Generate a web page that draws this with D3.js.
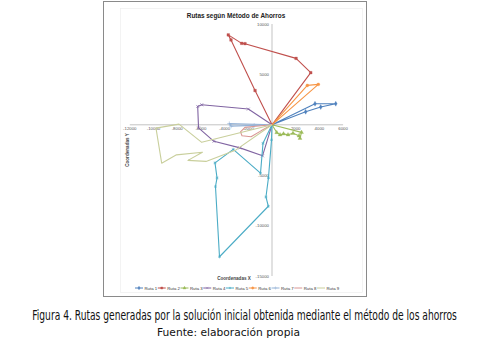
<!DOCTYPE html>
<html lang="es">
  <head>
    <meta charset="UTF-8" />
    <title>Rutas según Método de Ahorros</title>
    <style>
      body { margin: 0; background: #fff; }
      svg { display: block; }
      .tick-label { font-family: Arial, 'Liberation Sans', sans-serif; font-size: 4.3px; fill: #555; }
      .axis-title { font-family: Arial, 'Liberation Sans', sans-serif; font-size: 4.6px; font-weight: bold; fill: #444; }
      .legend-label { font-family: Arial, 'Liberation Sans', sans-serif; font-size: 4.3px; fill: #333; }
      .caption { font-family: 'Liberation Sans Narrow', 'DejaVu Sans Condensed', 'Open Sans', sans-serif; fill: #111; }
    </style>
  </head>
  <body>
    <script src="https://d3js.org/d3.v7.min.js"></script>
    <script>
      // rutas: puntos [x, y] (todas salen y vuelven al deposito 0,0)
      const ruta1 = [[0, 0], [3630, 2090], [5380, 2090], [4110, 1760], [2840, 1290], [0, 0]];
      const ruta2 = [[0, 0], [-1430, 3400], [-3460, 8420], [-3690, 8920], [-2560, 8080], [-2280, 8050], [2030, 6590], [3270, 5170], [0, 0]];
      const ruta3 = [[0, 0], [400, -770], [680, -990], [970, -900], [1350, -990], [1770, -840], [2280, -1090], [2360, -1340], [2490, -750], [0, 0]];
      const ruta4 = [[0, 0], [-2000, 1560], [-5930, 1990], [-6270, 1820], [-6200, -300], [-4900, -1640], [-2700, -2290], [-800, -3080], [0, 0]];
      const ruta5 = [[0, 0], [-760, -1840], [-970, -4800], [-3270, -2440], [-4810, -3780], [-4640, -5270], [-4770, -6130], [-4430, -13090], [-310, -8080], [-510, -7160], [-300, -5270], [-40, -1490], [0, 0]];
      const ruta6 = [[0, 0], [2980, 3910], [3910, 4010], [0, 0]];
      const ruta7 = [[0, 0], [-3600, 120], [-3450, -130], [-1500, -60], [0, 0]];
      const ruta8 = [[0, 0], [-2280, -250], [-2660, -700], [-2530, -1090], [-1770, -1190], [-930, -600], [0, 0]];
      const ruta9 = [[0, 0], [-5930, -1740], [-7850, 70], [-9790, -330], [-9310, -3810], [-8060, -2980], [-5870, -2730], [-7090, -3530], [-5570, -3630], [-3040, -2490], [0, 0]];

      const routeNames = ['Ruta 1', 'Ruta 2', 'Ruta 3', 'Ruta 4', 'Ruta 5', 'Ruta 6', 'Ruta 7', 'Ruta 8', 'Ruta 9'];
      const xTicks = [-12000, -10000, -8000, -6000, -4000, -2000, 2000, 4000, 6000];
      const yTicks = [-15000, -10000, -5000, 5000, 10000];

      const routes = [ruta1, ruta2, ruta3, ruta4, ruta5, ruta6, ruta7, ruta8, ruta9];
      const colors = ['#4f81bd', '#c0504d', '#9bbb59', '#8064a2', '#4bacc6', '#f79646', '#95b3d7', '#d99694', '#c9cf9c'];
      const shapes = [d3.symbolDiamond, d3.symbolSquare, d3.symbolTriangle, d3.symbolTimes, d3.symbolAsterisk, d3.symbolCircle, d3.symbolPlus, null, null];

      const width = 477;
      const height = 342;

      const svg = d3.select('body').append('svg').attr('width', width).attr('height', height);

      // marco del grafico
      svg.append('rect')
        .attr('x', 103.5).attr('y', 1.5).attr('width', 263).attr('height', 295)
        .attr('fill', '#fff').attr('stroke', '#8a8a8a').attr('stroke-width', 1);
      svg.append('rect')
        .attr('x', 120.5).attr('y', 8.5).attr('width', 242).attr('height', 284)
        .attr('fill', 'none').attr('stroke', '#ececec').attr('stroke-width', 0.6);

      const x = d3.scaleLinear().domain([-12000, 6000]).range([129.8, 343.1]);
      const y = d3.scaleLinear().domain([-15000, 10000]).range([276, 24]);

      // ejes cruzando en el origen
      const axes = svg.append('g').attr('stroke', '#9a9a9a').attr('stroke-width', 0.6);
      axes.append('line').attr('x1', x(-12000)).attr('x2', x(6000)).attr('y1', y(0)).attr('y2', y(0));
      axes.append('line').attr('x1', x(0)).attr('x2', x(0)).attr('y1', y(10000)).attr('y2', y(-15000));

      svg.append('g').selectAll('text').data(xTicks).join('text')
        .attr('class', 'tick-label')
        .attr('x', (d) => x(d)).attr('y', y(0) + 5)
        .attr('text-anchor', 'middle')
        .text((d) => d);

      svg.append('g').selectAll('text').data(yTicks).join('text')
        .attr('class', 'tick-label')
        .attr('x', x(0) - 3).attr('y', (d) => y(d) + 1.5)
        .attr('text-anchor', 'end')
        .text((d) => d);

      const line = d3.line().x((d) => x(d[0])).y((d) => y(d[1]));

      const series = svg.append('g').selectAll('g').data(routes).join('g');
      series.append('path')
        .attr('d', (d) => line(d))
        .attr('fill', 'none')
        .attr('stroke', (d, i) => colors[i])
        .attr('stroke-width', 1.1)
        .attr('stroke-linejoin', 'round');

      series.each(function (pts, i) {
        if (!shapes[i]) return;
        const filled = [0, 1, 2, 5].includes(i);
        d3.select(this).selectAll('path.mk').data(pts.slice(1, -1)).join('path')
          .attr('class', 'mk')
          .attr('transform', (d) => `translate(${x(d[0])},${y(d[1])})`)
          .attr('d', d3.symbol().type(shapes[i]).size(7))
          .attr('fill', filled ? colors[i] : 'none')
          .attr('stroke', colors[i])
          .attr('stroke-width', filled ? 0.3 : 0.6);
      });

      // titulos
      svg.append('text')
        .attr('x', 236).attr('y', 18)
        .attr('text-anchor', 'middle')
        .attr('font-family', 'Arial, Liberation Sans, sans-serif')
        .attr('font-size', 6.4).attr('font-weight', 'bold').attr('fill', '#222')
        .text('Rutas según  Método de Ahorros');

      svg.append('text').attr('class', 'axis-title')
        .attr('x', 234).attr('y', 279.5).attr('text-anchor', 'middle')
        .text('Coordenadas X');

      svg.append('text').attr('class', 'axis-title')
        .attr('transform', 'translate(128.5,150) rotate(-90)')
        .attr('text-anchor', 'middle')
        .text('Coordenadas Y');

      // leyenda
      const legendX = d3.scalePoint().domain(routeNames).range([139, 321]);
      const legend = svg.append('g').selectAll('g').data(routeNames).join('g')
        .attr('transform', (d) => `translate(${legendX(d)},288)`);
      legend.append('line')
        .attr('x1', -4).attr('x2', 4)
        .attr('stroke', (d, i) => colors[i]).attr('stroke-width', 1);
      legend.filter((d, i) => shapes[i] !== null).append('path')
        .attr('d', (d, i) => d3.symbol().type(shapes[i]).size(4)())
        .attr('fill', (d, i) => ([0, 1, 2, 5].includes(i) ? colors[i] : 'none'))
        .attr('stroke', (d, i) => colors[i]).attr('stroke-width', 0.4);
      legend.append('text').attr('class', 'legend-label')
        .attr('x', 5.5).attr('y', 1.5)
        .text((d) => d);

      // pie de figura: letra grande comprimida en horizontal hasta el ancho del original
      const fitText = (cx, cy, size, targetWidth, label) => {
        const g = svg.append('g');
        const t = g.append('text').attr('class', 'caption')
          .attr('text-anchor', 'middle')
          .attr('font-size', size)
          .text(label);
        const sx = targetWidth / t.node().getComputedTextLength();
        g.attr('transform', `translate(${cx},${cy}) scale(${sx},1)`);
      };

      fitText(244.5, 320, 13.5, 425, 'Figura 4. Rutas generadas por la solución inicial obtenida mediante el método de los ahorros');
      fitText(228.5, 335.5, 10, 143, 'Fuente: elaboración propia');
    </script>
  </body>
</html>
